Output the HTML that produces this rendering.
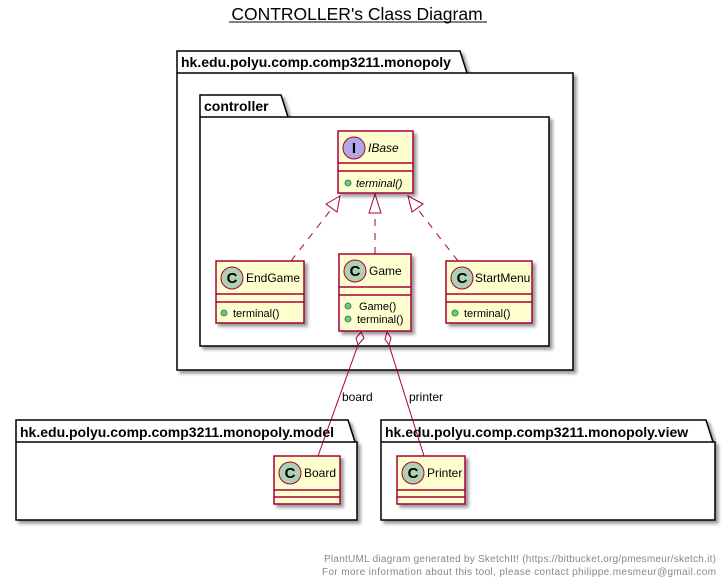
<!DOCTYPE html>
<html><head><meta charset="utf-8"><style>html,body{margin:0;padding:0;background:#fff}svg{display:block}</style></head><body>
<svg width="728" height="581" viewBox="0 0 728 581" xmlns="http://www.w3.org/2000/svg" font-family="Liberation Sans, sans-serif">
<defs><filter id="s" x="-10%" y="-10%" width="130%" height="130%"><feGaussianBlur in="SourceAlpha" stdDeviation="1.5"/><feOffset dx="3" dy="3"/><feComponentTransfer><feFuncA type="linear" slope="0.4"/></feComponentTransfer><feMerge><feMergeNode/><feMergeNode in="SourceGraphic"/></feMerge></filter></defs>
<text x="357" y="20" font-size="17.5" text-anchor="middle">CONTROLLER's Class Diagram</text>
<line x1="229" y1="22" x2="487" y2="22" stroke="#000" stroke-width="1"/>
<g filter="url(#s)" fill="#fff" stroke="#000" stroke-width="1.5">
<path d="M177,51 H460 L467,73 H573 V370 H177 Z"/>
<line x1="177" y1="73" x2="467" y2="73"/>
</g>
<text x="181" y="67" font-size="14" font-weight="bold">hk.edu.polyu.comp.comp3211.monopoly</text>
<g filter="url(#s)" fill="#fff" stroke="#000" stroke-width="1.5">
<path d="M200,95 H281 L288,117 H549 V346 H200 Z"/>
<line x1="200" y1="117" x2="288" y2="117"/>
</g>
<text x="204" y="111" font-size="14" font-weight="bold">controller</text>
<g filter="url(#s)" fill="#fff" stroke="#000" stroke-width="1.5">
<path d="M16,420 H348 L355,442 H357 V520 H16 Z"/>
<line x1="16" y1="442" x2="355" y2="442"/>
<path d="M381,420 H706 L713,442 H715 V520 H381 Z"/>
<line x1="381" y1="442" x2="713" y2="442"/>
</g>
<text x="20" y="437" font-size="14" font-weight="bold">hk.edu.polyu.comp.comp3211.monopoly.model</text>
<text x="385" y="437" font-size="14" font-weight="bold">hk.edu.polyu.comp.comp3211.monopoly.view</text>
<g stroke="#A80036" stroke-width="1" fill="none">
<line x1="291" y1="261" x2="333" y2="207" stroke-dasharray="7,7"/>
<polygon points="340,196 326,204 337,212" fill="#fff"/>
<line x1="375" y1="254" x2="375" y2="213" stroke-dasharray="7,7"/>
<polygon points="375,194 369,213 381,213" fill="#fff"/>
<line x1="458" y1="261" x2="416" y2="207" stroke-dasharray="7,7"/>
<polygon points="408,196 412,212 423,204" fill="#fff"/>
<line x1="358" y1="345" x2="318" y2="456"/>
<polygon points="361,332 364,338 358,345 356,338" fill="#fff"/>
<line x1="389" y1="345" x2="424" y2="456"/>
<polygon points="387,332 391,338 389,345 385,339" fill="#fff"/>
</g>
<text x="342" y="401" font-size="12">board</text>
<text x="409" y="401" font-size="12">printer</text>
<g fill="#FEFECE" stroke="#A80036" stroke-width="1.5" filter="url(#s)">
<rect x="338" y="131" width="75" height="62"/>
<rect x="216" y="261" width="88" height="62"/>
<rect x="339" y="254" width="72" height="77"/>
<rect x="446" y="261" width="86" height="62"/>
<rect x="274" y="456" width="66" height="48"/>
<rect x="397" y="456" width="68" height="48"/>
</g>
<g stroke="#A80036" stroke-width="1.5">
<line x1="338" y1="163" x2="413" y2="163"/><line x1="338" y1="171" x2="413" y2="171"/>
<line x1="216" y1="294" x2="304" y2="294"/><line x1="216" y1="302" x2="304" y2="302"/>
<line x1="339" y1="287" x2="411" y2="287"/><line x1="339" y1="295" x2="411" y2="295"/>
<line x1="446" y1="294" x2="532" y2="294"/><line x1="446" y1="302" x2="532" y2="302"/>
<line x1="274" y1="490" x2="340" y2="490"/><line x1="274" y1="497" x2="340" y2="497"/>
<line x1="397" y1="490" x2="465" y2="490"/><line x1="397" y1="497" x2="465" y2="497"/>
</g>
<g stroke="#A80036" stroke-width="1">
<circle cx="354" cy="148" r="11" fill="#B4A7E5"/>
<circle cx="232" cy="278" r="11" fill="#ADD1B2"/>
<circle cx="355" cy="271" r="11" fill="#ADD1B2"/>
<circle cx="462" cy="278" r="11" fill="#ADD1B2"/>
<circle cx="290" cy="473" r="11" fill="#ADD1B2"/>
<circle cx="413" cy="473" r="11" fill="#ADD1B2"/>
</g>
<g font-size="15" font-weight="bold" text-anchor="middle" font-family="Liberation Sans, sans-serif">
<text x="354" y="153">I</text><text x="232" y="283">C</text><text x="355" y="276">C</text><text x="462" y="283">C</text><text x="290" y="478">C</text><text x="413" y="478">C</text>
</g>
<g font-size="12">
<text x="368" y="152" font-style="italic">IBase</text>
<text x="246" y="282">EndGame</text>
<text x="369" y="275">Game</text>
<text x="475" y="282">StartMenu</text>
<text x="304" y="477">Board</text>
<text x="427" y="477">Printer</text>
</g>
<g fill="#84BE84" stroke="#038048" stroke-width="0.8">
<circle cx="348" cy="183" r="3"/><circle cx="224" cy="313" r="3"/><circle cx="348" cy="306" r="3"/><circle cx="348" cy="319" r="3"/><circle cx="455" cy="313" r="3"/>
</g>
<g font-size="11">
<text x="356" y="187" font-style="italic">terminal()</text>
<text x="233" y="317">terminal()</text>
<text x="359" y="310">Game()</text>
<text x="357" y="323">terminal()</text>
<text x="464" y="317">terminal()</text>
</g>
<g font-size="10" fill="#888" text-anchor="end">
<text x="716" y="562" textLength="392">PlantUML diagram generated by SketchIt! (https://bitbucket.org/pmesmeur/sketch.it)</text>
<text x="716" y="575" textLength="394">For more information about this tool, please contact philippe.mesmeur@gmail.com</text>
</g>
</svg>
</body></html>
